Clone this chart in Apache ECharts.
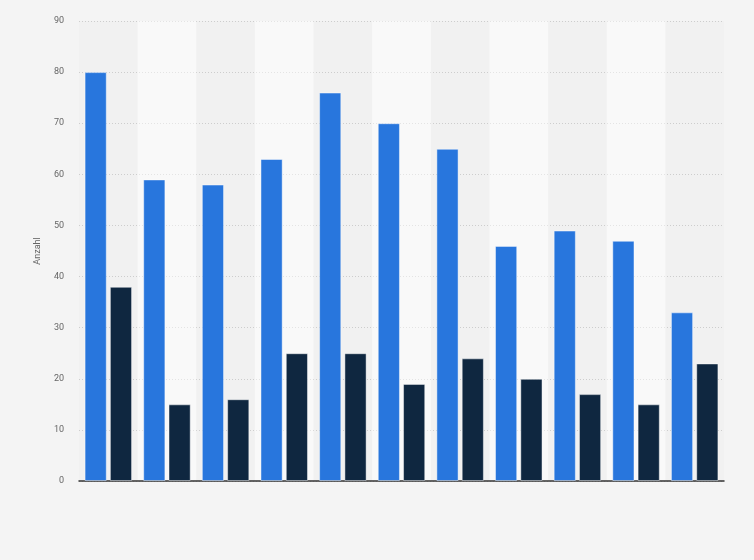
<!DOCTYPE html>
<html>
<head>
<meta charset="utf-8">
<script src="https://cdn.jsdelivr.net/npm/echarts@6/dist/echarts.min.js"></script>
<style>
  html, body { margin: 0; padding: 0; background: #f4f4f4; }
  #chart { width: 754px; height: 560px; }
</style>
</head>
<body>
<div id="chart"></div>
<script>
var categories = ['1', '2', '3', '4', '5', '6', '7', '8', '9', '10', '11'];
var seriesA = [80, 59, 58, 63, 76, 70, 65, 46, 49, 47, 33];
var seriesB = [38, 15, 16, 25, 25, 19, 24, 20, 17, 15, 23];

var chart = echarts.init(document.getElementById('chart'));
chart.setOption({
    backgroundColor: '#f4f4f4',
    animation: false,
    grid: { left: 79, right: 30, top: 21, bottom: 79 },
    xAxis: {
        type: 'category',
        data: categories,
        axisLine: { lineStyle: { color: '#333', width: 1.5 } },
        axisTick: { show: false },
        axisLabel: { show: false },
        splitArea: { show: true, areaStyle: { color: ['rgba(0,0,0,0.01)', 'rgba(255,255,255,0.42)'] } }
    },
    yAxis: {
        type: 'value',
        min: 0,
        max: 90,
        interval: 10,
        name: 'Anzahl',
        nameLocation: 'middle',
        nameGap: 37,
        nameTextStyle: { color: '#666', fontSize: 9, fontFamily: 'Roboto' },
        axisLine: { show: false },
        axisTick: { show: false },
        axisLabel: { color: '#666', fontSize: 9, fontFamily: 'Roboto', margin: 15 },
        splitLine: { lineStyle: { color: '#d0d0d0', type: [1, 2] } }
    },
    series: [
        {
            type: 'bar',
            data: seriesA,
            barGap: '14%',
            barCategoryGap: '19%',
            itemStyle: { color: '#2876dd', borderColor: 'rgba(255,255,255,0.45)', borderWidth: 1 }
        },
        {
            type: 'bar',
            data: seriesB,
            itemStyle: { color: '#0f2740', borderColor: 'rgba(255,255,255,0.45)', borderWidth: 1 }
        }
    ]
});
</script>
</body>
</html>
